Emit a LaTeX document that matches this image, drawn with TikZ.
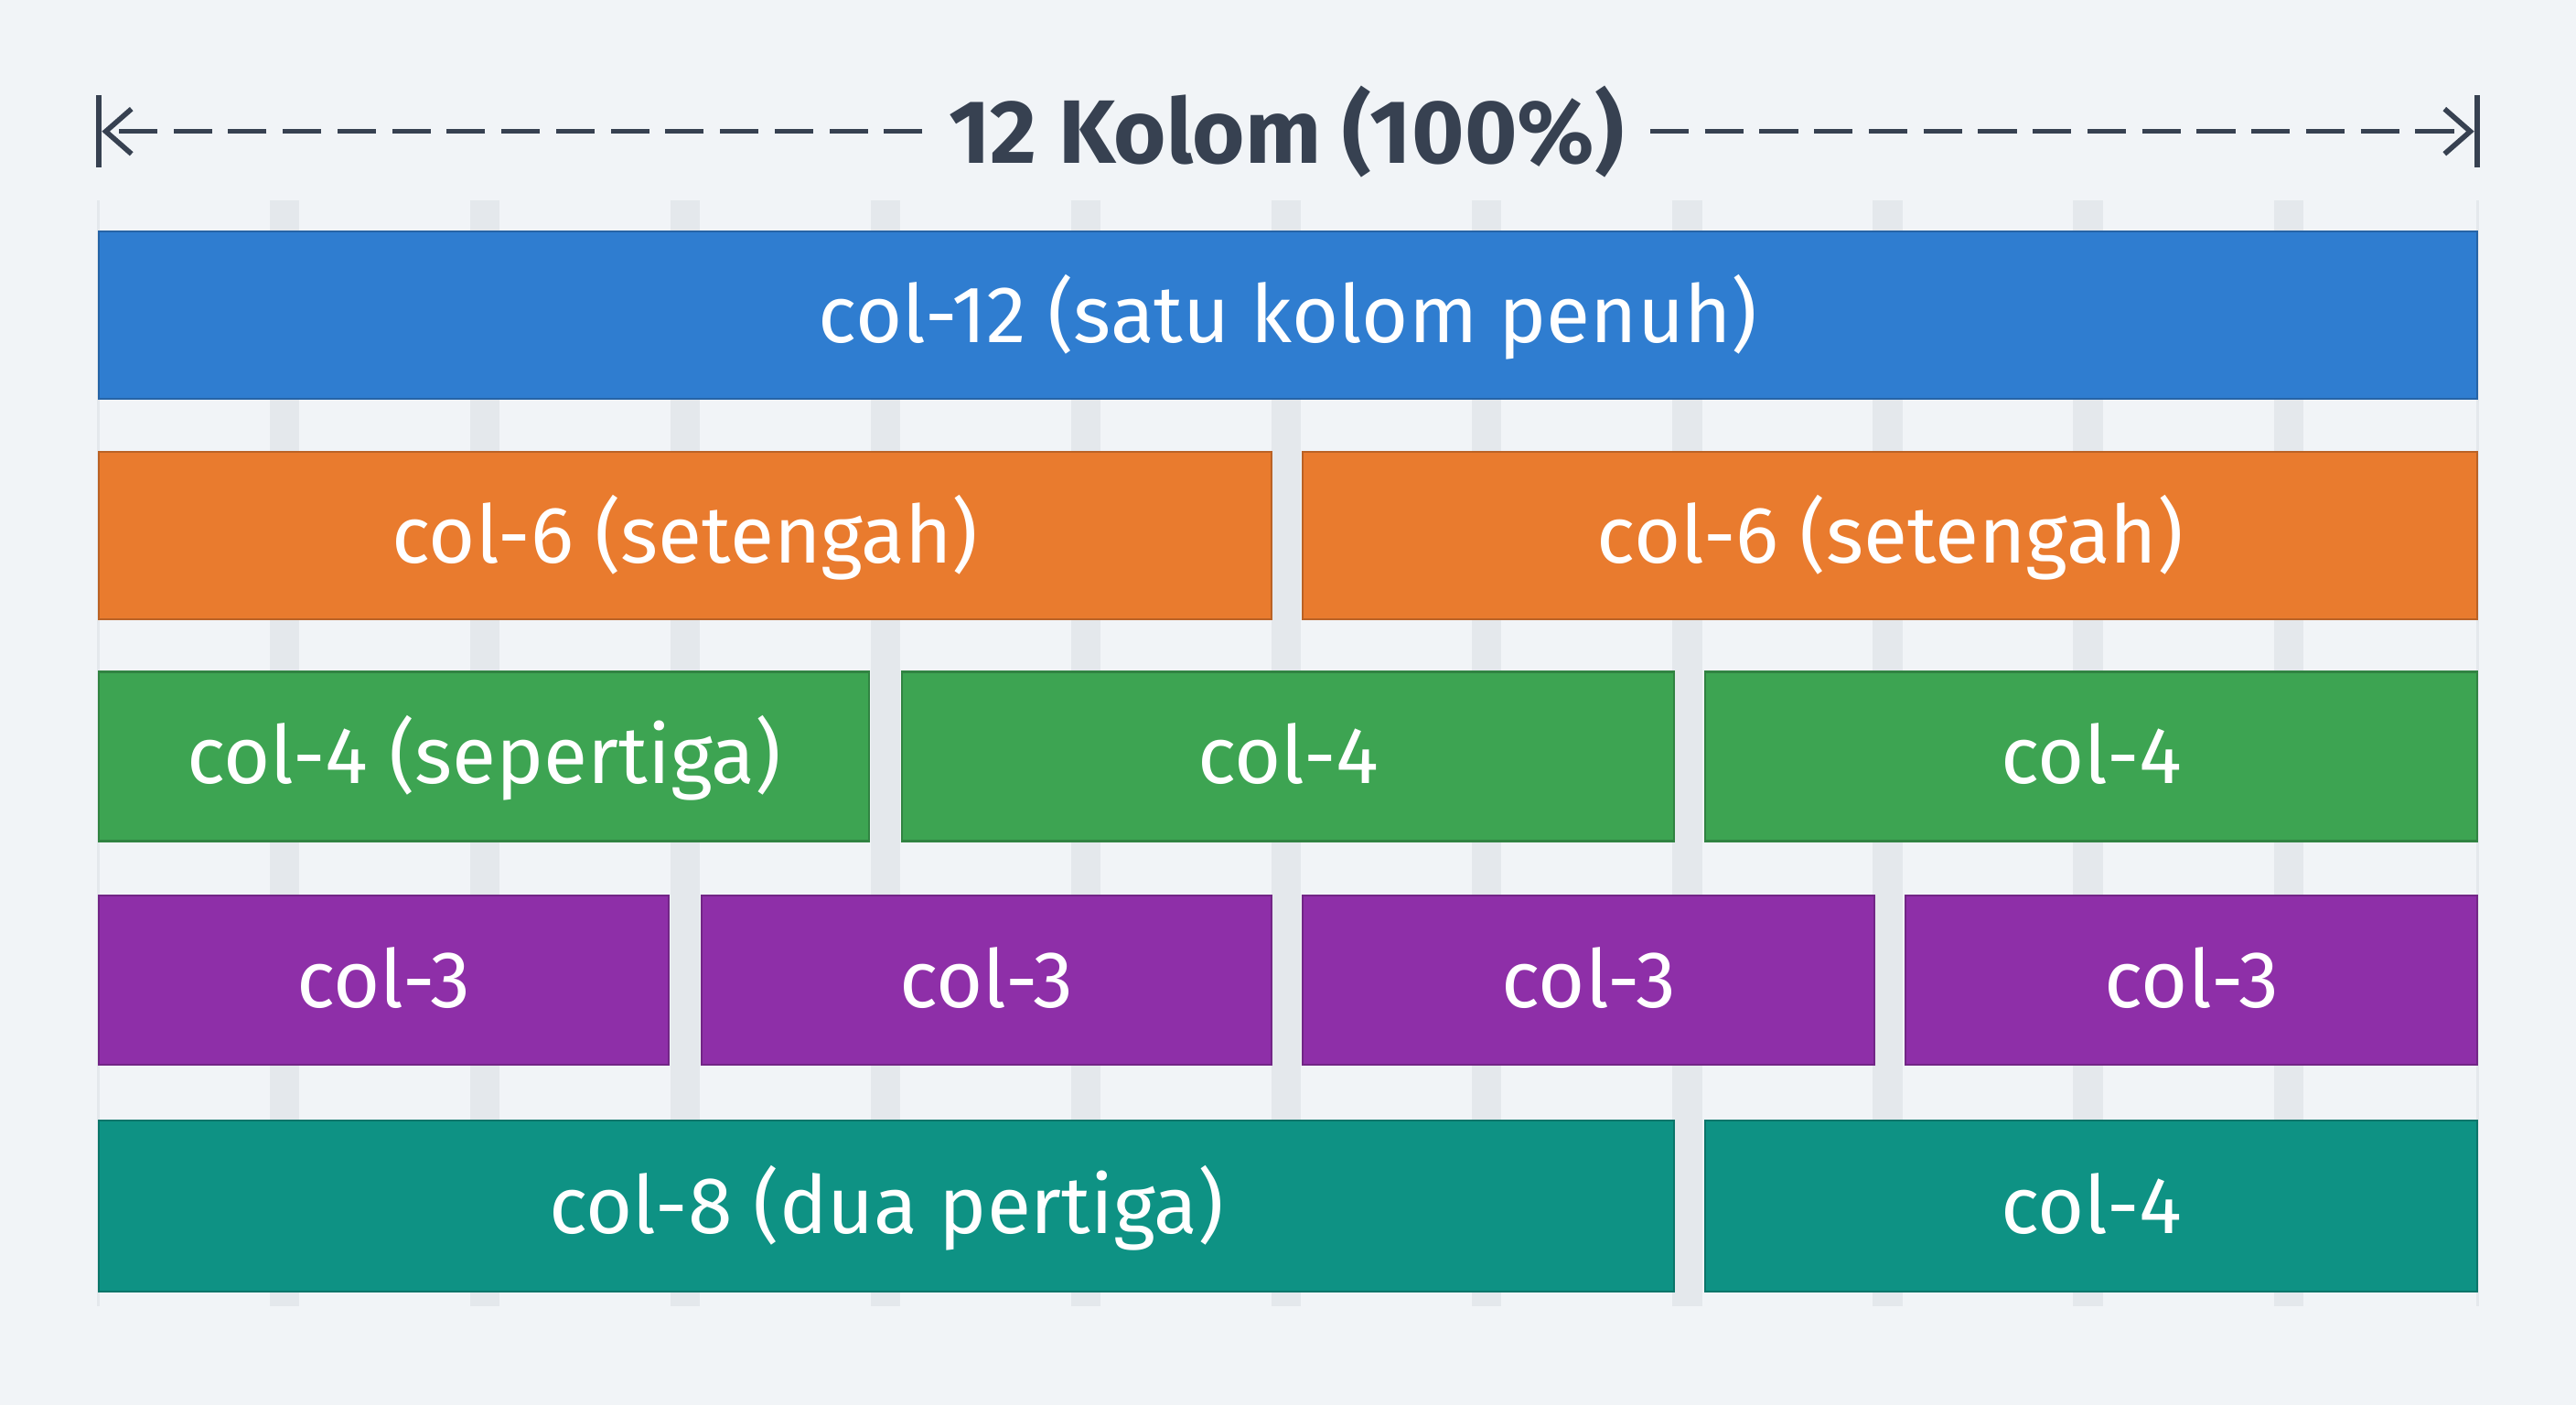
\documentclass[tikz,border=0pt]{standalone}
\usepackage{fontspec}
\setmainfont{Fira Sans}
\usetikzlibrary{arrows.meta}
\definecolor{bg}{HTML}{F1F4F7}
\definecolor{grid}{HTML}{E4E8EC}
\definecolor{cblue}{HTML}{2F7DD0}
\definecolor{corange}{HTML}{E97B2E}
\definecolor{cgreen}{HTML}{3DA452}
\definecolor{cpurple}{HTML}{8E2FA8}
\definecolor{cteal}{HTML}{0E9284}
\definecolor{ink}{HTML}{374151}
\begin{document}
\begin{tikzpicture}[x=0.01796cm,y=-0.01796cm,
  bar/.style={draw=#1!80!black,line width=0.6pt,fill=#1},
  lab/.style={text=white,font=\fontsize{25}{30}\selectfont,text height=17pt,text depth=5pt,yshift=-2.5pt},
]
\useasboundingbox (0,0) rectangle (1568,855);
\fill[bg] (0,0) rectangle (1568,855);
\foreach \x in {173,295,417,539,661,783,905,1027,1149,1271,1393}
  \fill[grid] (\x-9,122) rectangle (\x+9,795);
\foreach \x in {60,1508} \draw[grid,line width=0.8pt] (\x,122)--(\x,795);
% title
\node[text=ink,font=\bfseries\fontsize{28}{34}\selectfont,inner xsep=8pt] (title) at (783,80) {12 Kolom (100\%)};
\coordinate (L) at (62,80); \coordinate (R) at (1506,80);
\draw[ink,line width=1.8pt] (60,58)--(60,102);
\draw[ink,line width=1.8pt] (1508,58)--(1508,102);
\draw[ink,line width=1.6pt,dash pattern=on 12pt off 5pt,-{Straight Barb[length=8pt,width=14pt]}] (title.west)--(L);
\draw[ink,line width=1.6pt,dash pattern=on 12pt off 5pt,-{Straight Barb[length=8pt,width=14pt]}] (title.east)--(R);
% rows
\path[bar=cblue] (60,141) rectangle node[lab] (b1) {col-12 (satu kolom penuh)} (1508,243);
\path[bar=corange] (60,275) rectangle node[lab] (o1) {col-6 (setengah)} (774,377);
\path[bar=corange] (793,275) rectangle node[lab] (o2) {col-6 (setengah)} (1508,377);
\path[bar=cgreen] (60,409) rectangle node[lab] (g1) {col-4 (sepertiga)} (529,512);
\path[bar=cgreen] (549,409) rectangle node[lab] (g2) {col-4} (1019,512);
\path[bar=cgreen] (1038,409) rectangle node[lab] (g3) {col-4} (1508,512);
\path[bar=cpurple] (60,545) rectangle node[lab] (p1) {col-3} (407,648);
\path[bar=cpurple] (427,545) rectangle node[lab] (p2) {col-3} (774,648);
\path[bar=cpurple] (793,545) rectangle node[lab] (p3) {col-3} (1141,648);
\path[bar=cpurple] (1160,545) rectangle node[lab] (p4) {col-3} (1508,648);
\path[bar=cteal] (60,682) rectangle node[lab] (t1) {col-8 (dua pertiga)} (1019,786);
\path[bar=cteal] (1038,682) rectangle node[lab] (t2) {col-4} (1508,786);
\end{tikzpicture}
\end{document}
